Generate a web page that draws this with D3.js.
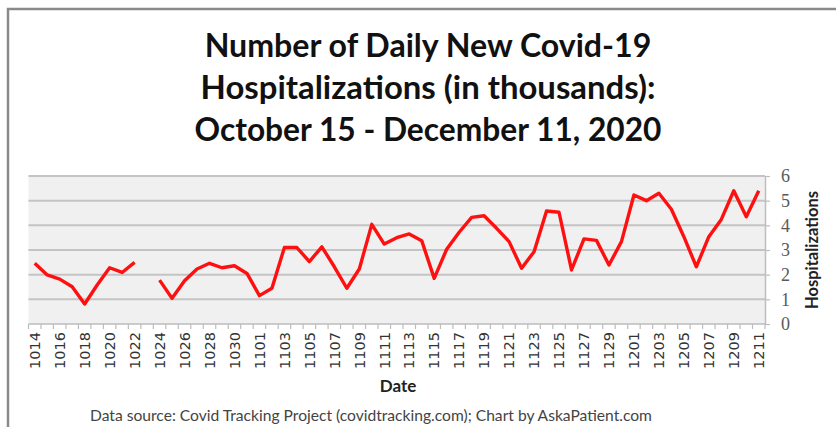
<!DOCTYPE html>
<html>
<head>
<meta charset="utf-8">
<script src="https://cdn.jsdelivr.net/npm/d3@7"></script>
<style>
  body { margin: 0; background: #fff; }
  svg { display: block; }
</style>
</head>
<body>
<div id="chart"></div>
<script>
const dates = [
  '1014','1015','1016','1017','1018','1019','1020','1021','1022','1023','1024','1025',
  '1026','1027','1028','1029','1030','1031','1101','1102','1103','1104','1105','1106',
  '1107','1108','1109','1110','1111','1112','1113','1114','1115','1116','1117','1118',
  '1119','1120','1121','1122','1123','1124','1125','1126','1127','1128','1129','1130',
  '1201','1202','1203','1204','1205','1206','1207','1208','1209','1210','1211'
];
// thousands of new hospitalizations, 1023 missing in the source
const hospitalizations = [
  2.46, 1.99, 1.82, 1.51, 0.81, 1.58, 2.28, 2.09, 2.50, null, 1.78, 1.04,
  1.75, 2.23, 2.46, 2.28, 2.36, 2.05, 1.15, 1.45, 3.10, 3.10, 2.53, 3.13,
  2.32, 1.45, 2.23, 4.04, 3.24, 3.50, 3.65, 3.38, 1.85, 3.03, 3.72, 4.32,
  4.39, 3.88, 3.34, 2.26, 2.93, 4.58, 4.53, 2.19, 3.45, 3.39, 2.39, 3.34,
  5.23, 5.00, 5.30, 4.65, 3.54, 2.32, 3.54, 4.24, 5.40, 4.35, 5.40
];
const yTicks = [0, 1, 2, 3, 4, 5, 6];
const titleLines = [
  'Number of Daily New Covid-19',
  'Hospitalizations (in thousands):',
  'October 15 - December 11, 2020'
];
const xLabel = 'Date';
const yLabel = 'Hospitalizations';
const sourceNote = 'Data source: Covid Tracking Project (covidtracking.com); Chart by AskaPatient.com';

const outerWidth = 836, outerHeight = 427;
const margin = {top: 176, right: 71, bottom: 103, left: 28.5};
const width = outerWidth - margin.left - margin.right;
const height = outerHeight - margin.top - margin.bottom;

const svg = d3.select('#chart').append('svg')
    .attr('width', outerWidth)
    .attr('height', outerHeight);

// screenshot frame (top + left edge)
svg.append('path')
    .attr('d', `M8,${outerHeight} L8,9 L${outerWidth},9`)
    .attr('fill', 'none')
    .attr('stroke', '#8a8a8a')
    .attr('stroke-width', 2.5);

// fit a text element to a given width by adjusting its font size
function fitText(sel, target) {
    const w = sel.node().getComputedTextLength();
    const fs = parseFloat(sel.attr('font-size'));
    sel.attr('font-size', (fs * target / w).toFixed(2));
}

const titleWidths = [447, 455, 467];
titleLines.forEach((t, i) => {
    const txt = svg.append('text')
        .attr('x', 428)
        .attr('y', 57 + i * 42)
        .attr('text-anchor', 'middle')
        .attr('font-family', 'Lato, "Open Sans", sans-serif')
        .attr('font-weight', 'bold')
        .attr('font-size', 30)
        .attr('fill', '#111')
        .text(t);
    fitText(txt, titleWidths[i]);
});

const g = svg.append('g')
    .attr('transform', `translate(${margin.left}, ${margin.top})`);

const x = d3.scaleBand().domain(dates).range([0, width]).padding(0);
const y = d3.scaleLinear().domain([0, 6]).range([height, 0]);

g.append('rect')
    .attr('width', width)
    .attr('height', height)
    .attr('fill', '#f0f0f0');

// horizontal grid
g.append('g')
    .selectAll('line')
    .data(yTicks.slice(1))
    .join('line')
    .attr('x1', 0)
    .attr('x2', width)
    .attr('y1', d => y(d))
    .attr('y2', d => y(d))
    .attr('stroke', '#c4c4c4')
    .attr('stroke-width', 2);

// x axis: ticks on category boundaries, every other label
const xAxisG = g.append('g').attr('transform', `translate(0, ${height})`);
xAxisG.append('line')
    .attr('x1', 0).attr('x2', width)
    .attr('stroke', '#bdbdbd').attr('stroke-width', 1.5);
xAxisG.selectAll('line.tick')
    .data(dates.concat(['end']))
    .join('line')
    .attr('class', 'tick')
    .attr('x1', (d, i) => i < dates.length ? x(d) : width)
    .attr('x2', (d, i) => i < dates.length ? x(d) : width)
    .attr('y1', 0)
    .attr('y2', 5)
    .attr('stroke', '#bdbdbd')
    .attr('stroke-width', 1.2);

const xAxis = d3.axisBottom(x)
    .tickValues(dates.filter((d, i) => i % 2 === 0))
    .tickSize(0);
xAxisG.append('g')
    .call(xAxis)
    .call(s => s.select('.domain').remove())
    .selectAll('text')
    .attr('transform', 'rotate(-90)')
    .attr('x', -8)
    .attr('y', 0)
    .attr('dy', '0.36em')
    .attr('text-anchor', 'end')
    .attr('font-family', '"DejaVu Sans", sans-serif')
    .attr('font-size', 14.5)
    .attr('fill', '#333');

// right y axis
const yAxisG = g.append('g')
    .attr('transform', `translate(${width}, 0)`)
    .call(d3.axisRight(y).tickValues(yTicks).tickFormat(d3.format('d'))
        .tickSize(5).tickPadding(11).tickSizeOuter(0));
yAxisG.select('.domain').attr('stroke', '#bdbdbd').attr('stroke-width', 1.5);
yAxisG.selectAll('.tick line').attr('stroke', '#bdbdbd').attr('stroke-width', 1.2);
yAxisG.selectAll('.tick text')
    .attr('font-family', '"Liberation Serif", serif')
    .attr('font-size', 18)
    .attr('fill', '#595959');

// the series
const line = d3.line()
    .defined(d => d != null)
    .x((d, i) => x(dates[i]) + x.bandwidth() / 2)
    .y(d => y(d));

g.append('path')
    .datum(hospitalizations)
    .attr('fill', 'none')
    .attr('stroke', '#ff1010')
    .attr('stroke-width', 3.4)
    .attr('stroke-linejoin', 'round')
    .attr('d', line);

// axis titles
g.append('text')
    .attr('x', 369.5)
    .attr('y', height + 68)
    .attr('text-anchor', 'middle')
    .attr('font-family', 'Lato, sans-serif')
    .attr('font-weight', 'bold')
    .attr('font-size', 17)
    .attr('fill', '#222')
    .text(xLabel);

g.append('text')
    .attr('transform', `translate(${width + 47}, ${height / 2}) rotate(-90)`)
    .attr('text-anchor', 'middle')
    .attr('dy', '0.35em')
    .attr('font-family', 'Lato, sans-serif')
    .attr('font-weight', 'bold')
    .attr('font-size', 16.5)
    .attr('fill', '#222')
    .text(yLabel);

const note = svg.append('text')
    .attr('x', 371)
    .attr('y', 421)
    .attr('text-anchor', 'middle')
    .attr('font-family', 'Lato, sans-serif')
    .attr('font-size', 15)
    .attr('fill', '#444')
    .text(sourceNote);
fitText(note, 562);
</script>
</body>
</html>
